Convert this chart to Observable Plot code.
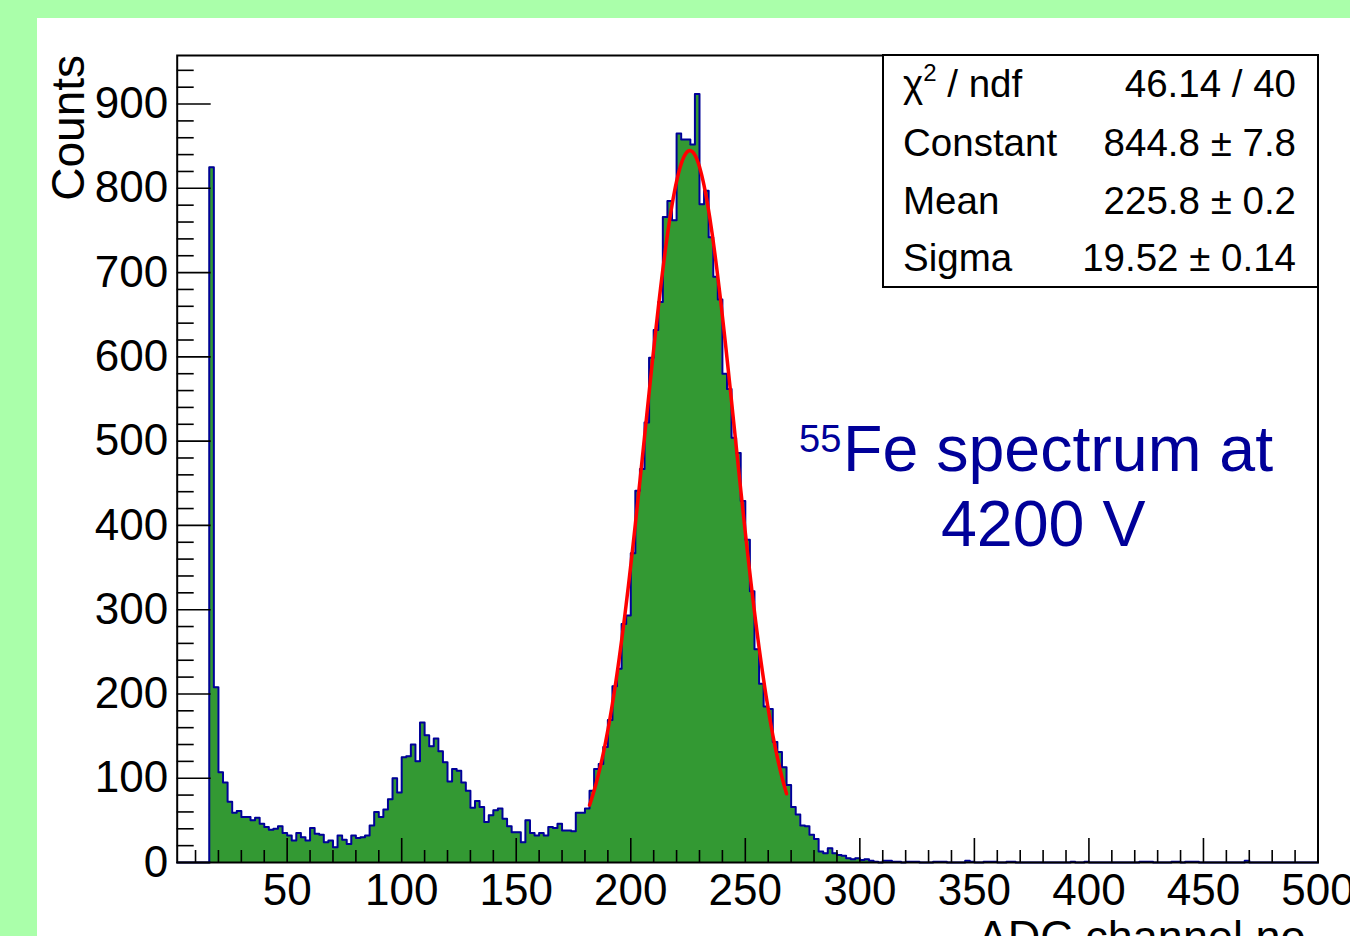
<!DOCTYPE html>
<html><head><meta charset="utf-8">
<script src="https://cdn.jsdelivr.net/npm/d3@7"></script>
<script src="https://cdn.jsdelivr.net/npm/@observablehq/plot@0.6"></script>
<style>
html,body{margin:0;padding:0;background:#aaffaa;width:1350px;height:936px;overflow:hidden;}
#pad{position:absolute;left:37px;top:18px;width:1313px;height:918px;background:#fff;overflow:hidden;}
</style></head><body><div id="pad"></div>
<script>
// Histogram: 2-unit bins; counts start at ADC channel 16
const binStart = 16, binWidth = 2;
const counts = [
  825, 208, 107, 95, 72, 59, 61, 54, 54, 50,
  53, 46, 42, 39, 40, 43, 35, 32, 26, 35,
  30, 26, 41, 34, 33, 24, 26, 18, 32, 27,
  22, 32, 29, 30, 32, 44, 60, 54, 63, 75,
  100, 83, 125, 126, 140, 120, 166, 151, 138, 147,
  132, 119, 96, 111, 109, 95, 85, 65, 73, 66,
  48, 56, 62, 64, 52, 43, 36, 36, 24, 50,
  35, 32, 35, 32, 42, 41, 46, 38, 38, 37,
  59, 59, 64, 85, 111, 117, 137, 169, 209, 230,
  283, 293, 367, 441, 467, 522, 599, 632, 665, 766,
  785, 762, 865, 858, 858, 852, 912, 781, 797, 742,
  695, 668, 580, 562, 504, 486, 429, 383, 322, 253,
  212, 185, 182, 143, 131, 113, 92, 66, 57, 44,
  43, 33, 28, 13, 11, 17, 11, 9, 8, 5,
  4, 5
];
// sparse tail [bin low edge, count]
const tailBins = [[300,3],[302,4],[304,2],[306,1],[310,2],[312,2],[314,1],[316,1],[320,1],[322,1],[324,1],
  [332,1],[334,1],[336,1],[346,2],[348,1],[354,1],[356,1],[358,1],[364,1],[366,1],[392,1],[398,1],
  [422,1],[424,1],[426,1],[436,1],[438,1],[442,1],[444,1],[446,1],[468,2]];
const xMajorTicks = [50, 100, 150, 200, 250, 300, 350, 400, 450, 500];
const yMajorTicks = [0, 100, 200, 300, 400, 500, 600, 700, 800, 900];
const statLabels = ["χ2 / ndf", "Constant", "Mean", "Sigma"];
const statValues = ["46.14 / 40", "844.8 ± 7.8", "225.8 ± 0.2", "19.52 ± 0.14"];
const fitParams = [844.8, 225.8, 19.52]; // constant, mean, sigma
const fitRange = [182, 268];
const xTitle = "ADC channel no.";
const yTitle = "Counts";

const bins = [];
for (let x = 2; x < 500; x += binWidth) bins.push({x1: x, count: 0});
counts.forEach((c, i) => { bins[(binStart - 2) / binWidth + i].count = c; });
tailBins.forEach(([x, c]) => { bins[(x - 2) / binWidth].count = c; });
const stepPts = bins.map(b => ({x: b.x1, y: b.count}));
stepPts.push({x: 500, y: bins[bins.length - 1].count});

const [C, M, S] = fitParams;
const fitPts = d3.range(fitRange[0], fitRange[1] + 0.001, 0.5).map(x => ({x, y: C * Math.exp(-0.5 * ((x - M) / S) ** 2)}));

const W = 1313, H = 918, mL = 139.7, mT = 37, mR = 32.5, mB = 74;
const plotW = W - mL - mR, plotH = H - mT - mB;
const xMinor = d3.range(10, 500, 10).filter(v => v % 50 !== 0);
const yMinor = d3.range(20, 957, 20).filter(v => v % 100 !== 0);
const font = "'Liberation Sans', Arial, Helvetica, sans-serif";

const chart = Plot.plot({
  width: W, height: H, marginLeft: mL, marginTop: mT, marginRight: mR, marginBottom: mB,
  style: {fontFamily: font, background: "white", color: "black", overflow: "visible"},
  x: {domain: [2, 500]},
  y: {domain: [0, 957.6]},
  marks: [
    Plot.areaY(stepPts, {x: "x", y: "y", curve: "step-after", fill: "#339933"}),
    Plot.line(stepPts, {x: "x", y: "y", curve: "step-after", stroke: "#000099", strokeWidth: 2}),
    Plot.line(fitPts, {x: "x", y: "y", stroke: "#ff0000", strokeWidth: 3.5}),
    Plot.tickY(yMajorTicks, {y: d => d, insetRight: plotW - 34, stroke: "black", strokeWidth: 1.6}),
    Plot.tickY(yMinor, {y: d => d, insetRight: plotW - 17, stroke: "black", strokeWidth: 1.6}),
    Plot.tickX(xMajorTicks, {x: d => d, insetTop: plotH - 24, stroke: "black", strokeWidth: 1.6}),
    Plot.tickX(xMinor, {x: d => d, insetTop: plotH - 12, stroke: "black", strokeWidth: 1.6}),
    Plot.frame({stroke: "black", strokeWidth: 2}),
    Plot.axisX({ticks: xMajorTicks, tickSize: 0, tickPadding: 11, fontSize: 44, label: null, tickFormat: d => String(d)}),
    Plot.axisY({ticks: yMajorTicks, tickSize: 0, tickPadding: 9, fontSize: 44, label: null, tickFormat: d => String(d)})
  ]
});
document.getElementById("pad").appendChild(chart);
const svg = d3.select(chart);

// axis titles
svg.append("text").attr("transform", "translate(47,37) rotate(-90)")
  .attr("text-anchor", "end").attr("font-family", font).attr("font-size", 46).attr("fill", "black").text(yTitle);
svg.append("text").attr("x", 1281).attr("y", 934)
  .attr("text-anchor", "end").attr("font-family", font).attr("font-size", 45).attr("fill", "black").text(xTitle);

// stats box
const box = svg.append("g").attr("font-family", font).attr("font-size", 38.5).attr("fill", "black").attr("text-anchor", "start");
box.append("rect").attr("x", 846).attr("y", 37).attr("width", 435).attr("height", 232)
  .attr("fill", "white").attr("stroke", "black").attr("stroke-width", 2);
const rowY = [79, 138, 196, 253];
statLabels.forEach((lab, i) => {
  const t = box.append("text").attr("x", 866).attr("y", rowY[i]).attr("text-anchor", "start");
  if (lab.startsWith("χ2")) {
    t.append("tspan").text("χ");
    t.append("tspan").attr("font-size", 24).attr("dy", -16).text("2");
    t.append("tspan").attr("dy", 16).text(" / ndf");
  } else t.text(lab);
  box.append("text").attr("x", 1259).attr("y", rowY[i]).attr("text-anchor", "end").text(statValues[i]);
});

// annotation
const ann = svg.append("g").attr("font-family", font).attr("fill", "#000099").attr("text-anchor", "start");
ann.append("text").attr("x", 762).attr("y", 434).attr("font-size", 38).attr("text-anchor", "start").text("55");
ann.append("text").attr("x", 806).attr("y", 453).attr("font-size", 64.5).attr("text-anchor", "start").text("Fe spectrum at");
ann.append("text").attr("x", 904).attr("y", 528).attr("font-size", 64.5).attr("text-anchor", "start").text("4200 V");
</script>
</body></html>
